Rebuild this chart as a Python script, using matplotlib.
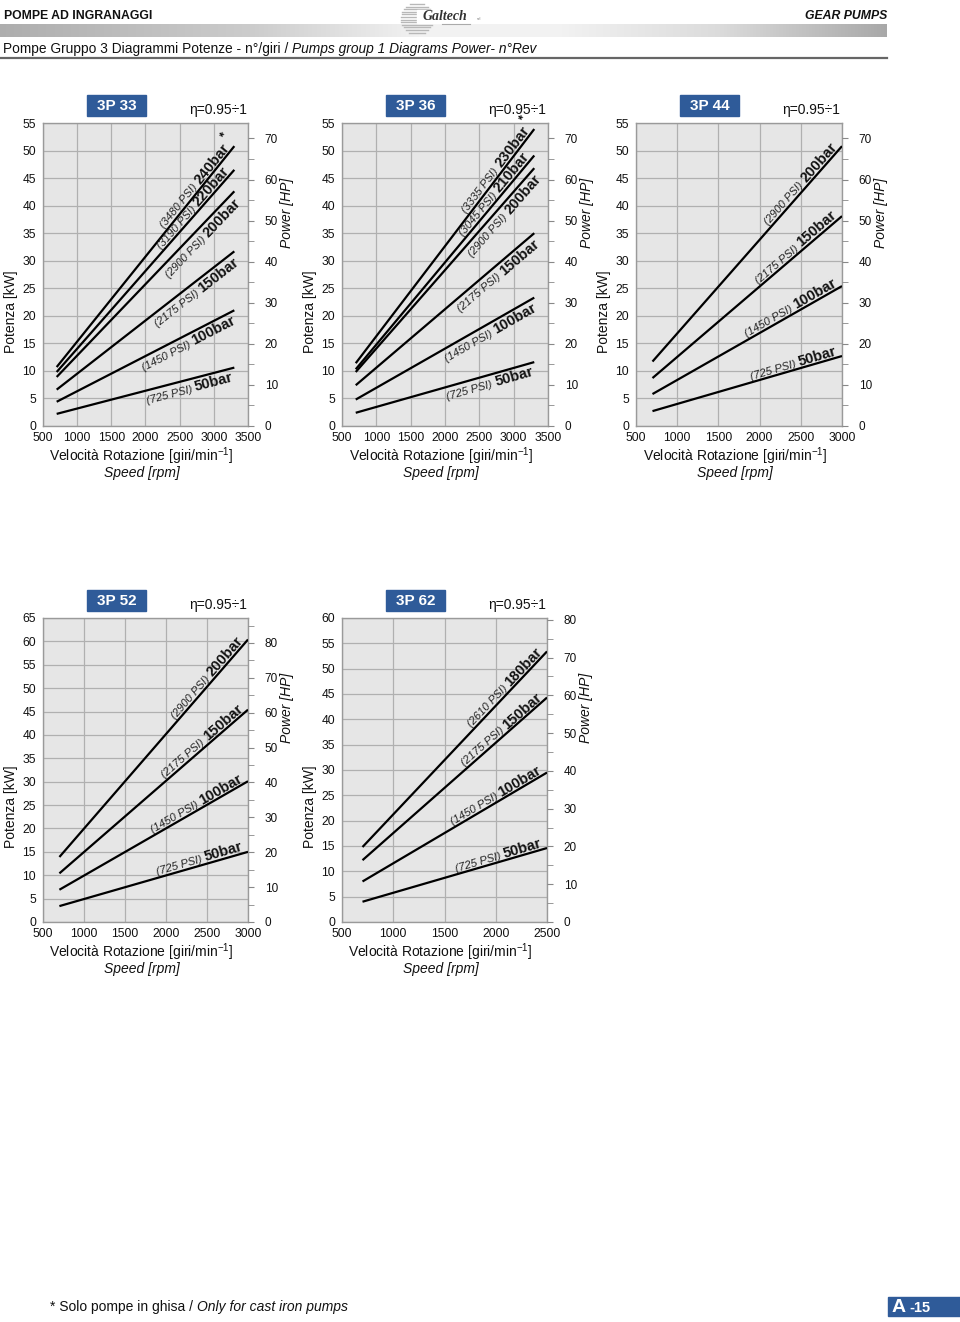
import numpy as np
import matplotlib
matplotlib.use('Agg')
import matplotlib.pyplot as plt
from matplotlib.patches import Rectangle
from matplotlib.ticker import MultipleLocator

plt.rcParams['font.family'] = ['Liberation Sans', 'DejaVu Sans']

# ---------------- data ----------------
names = ['3P 33', '3P 36', '3P 44', '3P 52', '3P 62']
rpm_start = [700, 700, 700, 700, 700]
rpm_end = [3300, 3300, 3000, 3000, 2500]
x_max = [3500, 3500, 3000, 3000, 2500]
kw_max = [55, 55, 55, 65, 60]

p33_bar = [240, 220, 200, 150, 100, 50]
p33_psi = [3480, 3190, 2900, 2175, 1450, 725]
p33_kw_start = [10.7, 9.8, 8.9, 6.6, 4.4, 2.2]
p33_kw_end = [50.8, 46.5, 42.6, 31.7, 21.0, 10.6]
p33_star = [True, False, False, False, False, False]
p33_above = [True, True, False, False, False, False]

p36_bar = [230, 210, 200, 150, 100, 50]
p36_psi = [3335, 3045, 2900, 2175, 1450, 725]
p36_kw_start = [11.4, 10.3, 9.8, 7.4, 4.8, 2.4]
p36_kw_end = [53.9, 49.1, 46.8, 35.0, 23.3, 11.6]
p36_star = [True, False, False, False, False, False]
p36_above = [True, True, False, False, False, False]

p44_bar = [200, 150, 100, 50]
p44_psi = [2900, 2175, 1450, 725]
p44_kw_start = [11.7, 8.7, 5.8, 2.7]
p44_kw_end = [50.8, 38.1, 25.4, 12.7]

p52_bar = [200, 150, 100, 50]
p52_psi = [2900, 2175, 1450, 725]
p52_kw_start = [13.9, 10.4, 6.9, 3.4]
p52_kw_end = [60.4, 45.4, 30.1, 15.0]

p62_bar = [180, 150, 100, 50]
p62_psi = [2610, 2175, 1450, 725]
p62_kw_start = [14.8, 12.2, 8.0, 4.0]
p62_kw_end = [53.4, 44.3, 29.5, 14.6]

KW_TO_HP = 1.341

# ---------------- layout ----------------
W, H = 960, 1322
fig = plt.figure(figsize=(W / 100, H / 100), dpi=100)
ax0 = fig.add_axes([0, 0, 1, 1], zorder=-5)
ax0.axis('off')
renderer = fig.canvas.get_renderer()
inv = fig.transFigure.inverted()

BLUE = '#2f5b99'


def chain(x, y, parts, **common):
    for s, kw in parts:
        t = ax0.text(x, y, s, ha='left', **common, **kw)
        x += t.get_window_extent(renderer).width


# header gradient bar
xs = np.linspace(0, 887, 600)
g = np.interp(xs, [0, 250, 420, 560, 720, 887], [0.68, 0.80, 0.95, 0.95, 0.86, 0.66])
grad = np.dstack([g, g, g])
ax0.imshow(grad, extent=[0, 887, 37, 24], aspect='auto', interpolation='bilinear')
ax0.set_xlim(0, W)
ax0.set_ylim(H, 0)

ax0.text(4, 16, 'POMPE AD INGRANAGGI', fontsize=8.8, fontweight='bold', va='center', ha='left',
         color='#111111')
ax0.text(887, 16, 'GEAR PUMPS', fontsize=8.8, fontweight='bold', style='italic', va='center',
         ha='right', color='#111111')
# logo
for yy in np.arange(4, 34, 2.6):
    half = np.sqrt(max(16 ** 2 - (yy - 18.5) ** 2, 0))
    ax0.plot([417 - half, 417 + half], [yy, yy], color='#b8b8b8', lw=1.0)
ax0.add_patch(Rectangle((417, 10), 56, 13, color='white', zorder=3))
ax0.text(445, 17, 'Galtech', fontsize=10, fontweight='bold', style='italic',
         family=['Liberation Serif', 'DejaVu Serif'], ha='center', va='center', color='#333333', zorder=4)
ax0.text(477, 19, 'srl', fontsize=3, ha='left', va='center', color='#777777', zorder=4)
ax0.plot([442, 470], [24, 24], color='#aaaaaa', lw=0.8, zorder=4)

chain(3, 49, [('Pompe Gruppo 3 Diagrammi Potenze - n°/giri / ', {}),
              ('Pumps group 1 Diagrams Power- n°Rev', {'style': 'italic'})],
      fontsize=9.9, va='center', color='#111111')
ax0.plot([0, 887], [57.5, 57.5], color='#666666', lw=1.6)

# footer
chain(50, 1307, [('* Solo pompe in ghisa / ', {}), ('Only for cast iron pumps', {'style': 'italic'})],
      fontsize=10, va='center', color='#111111')
ax0.add_patch(Rectangle((888, 1297), 72, 19, color=BLUE))
ax0.text(892, 1307, 'A', fontsize=14, fontweight='bold', color='white', va='center', ha='left')
ax0.text(909, 1308, '-15', fontsize=10.5, fontweight='bold', color='white', va='center', ha='left')

# chart boxes in pixels: L, T, R, B
boxes = [(43, 123, 248, 426), (342, 123, 548, 426), (636, 123, 842, 426),
         (43, 618, 248, 922), (342, 618, 547, 922)]

series = [
    (p33_bar, p33_psi, p33_kw_start, p33_kw_end, p33_star, p33_above),
    (p36_bar, p36_psi, p36_kw_start, p36_kw_end, p36_star, p36_above),
    (p44_bar, p44_psi, p44_kw_start, p44_kw_end, [False] * 4, [True] * 4),
    (p52_bar, p52_psi, p52_kw_start, p52_kw_end, [False] * 4, [True] * 4),
    (p62_bar, p62_psi, p62_kw_start, p62_kw_end, [False] * 4, [True] * 4),
]

BOLD_SIZE = 10.5
BOLD_CAP = BOLD_SIZE * 100 / 72 * 0.72

for i, (L, T, R, B) in enumerate(boxes):
    ax = fig.add_axes([L / W, 1 - B / H, (R - L) / W, (B - T) / H])
    ax.set_facecolor('#e6e6e6')
    ax.set_xlim(500, x_max[i])
    ax.set_ylim(0, kw_max[i])
    ax.xaxis.set_major_locator(MultipleLocator(500))
    ax.yaxis.set_major_locator(MultipleLocator(5))
    ax.grid(True, color='#b0b0b0', lw=0.9)
    ax.set_axisbelow(True)
    for s in ax.spines.values():
        s.set_color('#9a9a9a')
        s.set_linewidth(1.0)
    ax.tick_params(axis='both', length=0, labelsize=8.7, colors='#111111')
    ax.tick_params(axis='y', pad=5)
    ax.tick_params(axis='x', pad=4)

    ax2 = ax.twinx()
    ax2.set_ylim(0, kw_max[i] * KW_TO_HP)
    ax2.yaxis.set_major_locator(MultipleLocator(10))
    ax2.yaxis.set_minor_locator(MultipleLocator(5))
    ax2.tick_params(axis='y', which='major', length=4, color='#888888', labelsize=8.5, pad=8,
                    labelcolor='#111111')
    ax2.tick_params(axis='y', which='minor', length=4, color='#888888')
    for s in ax2.spines.values():
        s.set_visible(False)

    bars, psis, ks, ke, stars, above = series[i]
    x0, x1 = rpm_start[i], rpm_end[i]
    for j in range(len(bars)):
        ax.plot([x0, x1], [ks[j], ke[j]], color='black', lw=1.6, solid_capstyle='butt', zorder=3)

    # labels
    for j in range(len(bars)):
        p0 = ax.transData.transform((x0, ks[j]))
        p1 = ax.transData.transform((x1, ke[j]))
        d = p1 - p0
        u = d / np.hypot(*d)
        n = np.array([-u[1], u[0]])
        ang = np.degrees(np.arctan2(d[1], d[0]))
        off = 2.5 if above[j] else -(2.5 + BOLD_CAP)
        a = p1 - u * 4 + n * off
        tb = fig.text(*inv.transform(a), f'{bars[j]}bar', ha='right', va='baseline', rotation=0,
                      rotation_mode='anchor', fontsize=BOLD_SIZE, fontweight='bold', color='#111111')
        w = tb.get_window_extent(renderer).width
        tb.set_rotation(ang)
        b = a - u * (w + 3)
        fig.text(*inv.transform(b), f'({psis[j]} PSI)', ha='right', va='baseline', rotation=ang,
                 rotation_mode='anchor', fontsize=8, style='italic', color='#222222')
        if stars[j]:
            c = a + u * 3 + n * 9
            fig.text(*inv.transform(c), '*', ha='left', va='baseline', rotation=ang,
                     rotation_mode='anchor', fontsize=9, fontweight='bold', color='#111111')

    # titles and axis labels
    cx = (L + R) / 2
    ax0.add_patch(Rectangle((L + 44, T - 28), 59, 21, color=BLUE))
    ax0.text(L + 73.5, T - 17, names[i], fontsize=11, fontweight='bold', color='white',
             ha='center', va='center')
    ax0.text(L + 175, T - 13, 'η=0.95÷1', fontsize=10, ha='center', va='center', color='#111111')
    ax0.text(L - 32, (T + B) / 2 + 37, 'Potenza [kW]', fontsize=10, rotation=90,
             ha='center', va='center', color='#111111')
    ax0.text(R + 39, T + 90, 'Power [HP]', fontsize=10, style='italic', rotation=90,
             ha='center', va='center', color='#111111')
    ax0.text(cx - 4, B + 30, r'Velocità Rotazione [giri/min$^{\mathregular{-1}}$]', fontsize=10,
             ha='center', va='center', color='#111111')
    ax0.text(cx - 4, B + 47, 'Speed [rpm]', fontsize=10, style='italic', ha='center', va='center',
             color='#111111')

fig.savefig('out.png', dpi=100)
